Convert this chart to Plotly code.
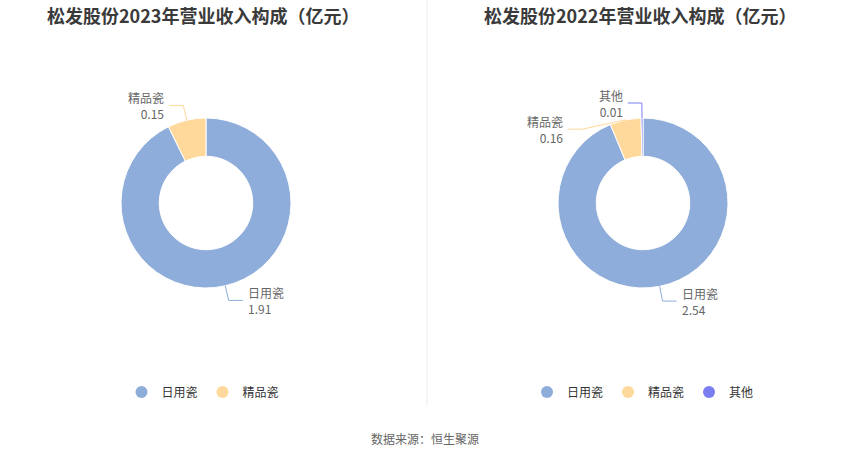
import math
import plotly.graph_objects as go

# === Data ===
labels_2023 = ["日用瓷", "精品瓷"]
values_2023 = [1.91, 0.15]
labels_2022 = ["日用瓷", "精品瓷", "其他"]
values_2022 = [2.54, 0.16, 0.01]
colors = ["#8fadda", "#ffd89b", "#7b7ef1"]

titles = ["松发股份2023年营业收入构成（亿元）", "松发股份2022年营业收入构成（亿元）"]
source_text = "数据来源：恒生聚源"

W, H = 850, 459
FONT = "Noto Sans CJK SC"
R = 85  # outer radius in px


def px(x):
    return x / W


def py(y):
    return 1 - y / H


fig = go.Figure()
shapes = []
annotations = []

charts = [
    (labels_2023, values_2023, 206, 203, "legend", {}),
    (labels_2022, values_2022, 643, 203, "legend2", {1: (-40, 24)}),
]

for (labs, vals, cx, cy, leg, nudge), title in zip(charts, titles):
    fig.add_trace(go.Pie(
        labels=labs, values=vals,
        hole=0.55, sort=False, direction="clockwise", rotation=0,
        marker=dict(colors=colors[:len(labs)], line=dict(color="white", width=1)),
        textinfo="none", showlegend=False,
        domain=dict(x=[px(cx - R), px(cx + R)], y=[py(cy + R), py(cy - R)]),
    ))
    # legend entries with round markers
    for lab, col in zip(labs, colors):
        fig.add_trace(go.Scatter(
            x=[None], y=[None], mode="markers", name=lab, legend=leg,
            marker=dict(color=col, size=12, symbol="circle"),
        ))
    # labels with leader lines, placed from slice mid angles
    total = sum(vals)
    cum = 0
    for i, (lab, v) in enumerate(zip(labs, vals)):
        ang = math.radians((cum + v / 2) / total * 360)
        cum += v
        s, c = math.sin(ang), math.cos(ang)
        ex, ey = cx + R * s, cy - R * c
        bx, by = cx + (R + 15) * s, cy - (R + 15) * c
        dx, dy = nudge.get(i, (0, 0))
        bx, by = bx + dx, by + dy
        side = 1 if s >= 0 else -1
        tx = bx + side * 14
        col = colors[i]
        shapes.append(dict(type="path", xref="paper", yref="paper",
                           path=f"M{px(ex)},{py(ey)} L{px(bx)},{py(by)} L{px(tx)},{py(by)}",
                           line=dict(color=col, width=1)))
        annotations.append(dict(
            x=px(tx + side * 3), y=py(by), xref="paper", yref="paper",
            text=f"{lab}<br>{v:.2f}", showarrow=False,
            xanchor="left" if side > 0 else "right", yanchor="middle",
            align="left" if side > 0 else "right",
            font=dict(family=FONT, size=12, color="#666666"),
        ))
    annotations.append(dict(
        x=px(cx - 3), y=py(15), xref="paper", yref="paper", text=f"<b>{title}</b>",
        showarrow=False, xanchor="center", yanchor="middle",
        font=dict(family=FONT, size=18, color="#3a3a3a"),
    ))

annotations.append(dict(
    x=0.5, y=py(438), xref="paper", yref="paper", text=source_text,
    showarrow=False, xanchor="center", yanchor="middle",
    font=dict(family=FONT, size=12, color="#666666"),
))

shapes.append(dict(type="line", xref="paper", yref="paper",
                   x0=px(427), x1=px(427), y0=py(406), y1=1,
                   line=dict(color="#eeeeee", width=1)))

legend_style = dict(orientation="h", yanchor="middle", y=py(392), xanchor="center",
                    font=dict(family=FONT, size=12, color="#333333"),
                    itemwidth=30, bgcolor="rgba(0,0,0,0)")

fig.update_layout(
    width=W, height=H,
    margin=dict(l=0, r=0, t=0, b=0),
    paper_bgcolor="white", plot_bgcolor="white",
    xaxis=dict(visible=False), yaxis=dict(visible=False),
    legend=dict(x=px(203), **legend_style),
    legend2=dict(x=px(643), **legend_style),
    shapes=shapes, annotations=annotations,
    font=dict(family=FONT),
)

fig.write_html("out.html", config={"displayModeBar": False},
               post_script="document.body.style.margin='0';document.body.style.overflow='hidden';")
